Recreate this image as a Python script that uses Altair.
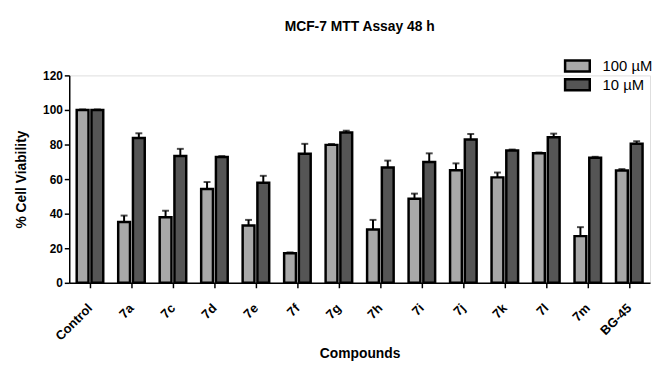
import altair as alt
import pandas as pd

compounds = ["Control", "7a", "7c", "7d", "7e", "7f", "7g", "7h", "7i", "7j", "7k", "7l", "7m", "BG-45"]
series = ["100 µM", "10 µM"]
v100 = [100, 35.2, 37.9, 54.3, 33.1, 17.1, 79.8, 30.9, 48.6, 65.1, 61.0, 74.9, 27.0, 65.0]
e100 = [0.3, 3.7, 3.8, 4.0, 3.3, 0.5, 0.5, 5.5, 3.0, 4.0, 2.8, 0.5, 5.2, 0.8]
v10 = [100, 83.8, 73.3, 72.8, 57.9, 74.7, 87.0, 66.7, 69.9, 82.9, 76.6, 84.2, 72.4, 80.4]
e10 = [0.3, 2.7, 4.2, 0.5, 4.0, 5.7, 1.0, 4.0, 5.0, 3.2, 0.5, 2.1, 0.5, 1.5]
y_ticks = [0, 20, 40, 60, 80, 100, 120]

rows = []
for i, c in enumerate(compounds):
    rows.append({"Compound": c, "Dose": series[0], "v": v100[i], "top": v100[i] + e100[i]})
    rows.append({"Compound": c, "Dose": series[1], "v": v10[i], "top": v10[i] + e10[i]})
df = pd.DataFrame(rows)

FONT = "Liberation Sans"

x = alt.X("Compound:N", sort=compounds, title="Compounds",
          scale=alt.Scale(paddingInner=0.36, paddingOuter=0.18),
          axis=alt.Axis(labelAngle=-45, labelFontWeight="bold", labelFontSize=13,
                        labelColor="black", titleFontSize=14, titleFontWeight="bold",
                        titleColor="black", domainColor="black", domainWidth=1.5,
                        tickColor="black", tickWidth=1.5, tickSize=5, labelPadding=14,
                        labelOffset=-4, titlePadding=4))
xo = alt.XOffset("Dose:N", sort=series, scale=alt.Scale(paddingInner=0.2, paddingOuter=0))
yscale = alt.Scale(domain=[0, 120], nice=False)
yaxis = alt.Axis(values=y_ticks, grid=False, labelOverlap=False,
                 labelFontWeight="bold", labelFontSize=12, labelColor="black",
                 titleFontSize=14, titleFontWeight="bold", titleColor="black",
                 domainColor="black", domainWidth=1.5, tickColor="black",
                 tickWidth=1.5, tickSize=5, titlePadding=14)

bars = alt.Chart(df).mark_bar(stroke="black", strokeWidth=2.5).encode(
    x=x,
    xOffset=xo,
    y=alt.Y("v:Q", title="% Cell Viability", scale=yscale, axis=yaxis),
    fill=alt.Fill("Dose:N", sort=series,
                  scale=alt.Scale(domain=series, range=["#a8a8a8", "#555555"]),
                  legend=alt.Legend(title=None, orient="none", legendX=507, legendY=-17,
                                    symbolType="M-2.27,-1L2.27,-1L2.27,1L-2.27,1Z",
                                    symbolSize=121,
                                    symbolStrokeColor="black", symbolStrokeWidth=2.5,
                                    labelFontSize=15, labelColor="black", rowPadding=-2,
                                    labelOffset=18)),
)

rules = alt.Chart(df).mark_rule(color="black", strokeWidth=2).encode(
    x=alt.X("Compound:N", sort=compounds), xOffset=xo,
    y=alt.Y("v:Q", title="% Cell Viability", scale=yscale, axis=yaxis), y2="top:Q")
caps = alt.Chart(df).mark_tick(color="black", thickness=2, size=7).encode(
    x=alt.X("Compound:N", sort=compounds), xOffset=xo,
    y=alt.Y("top:Q", title="% Cell Viability", scale=yscale, axis=yaxis))

chart = alt.layer(bars, rules, caps).properties(
    width=588, height=210,
    title=alt.TitleParams("MCF-7 MTT Assay 48 h", fontSize=14, fontWeight="bold",
                          color="black", anchor="middle", offset=25),
    autosize=alt.AutoSizeParams(type="none"),
    padding={"left": 62, "top": 66, "right": 2, "bottom": 82},
).configure_view(stroke=None).configure(font=FONT)

chart.save("out.html", embed_options={"renderer": "svg", "actions": False})
